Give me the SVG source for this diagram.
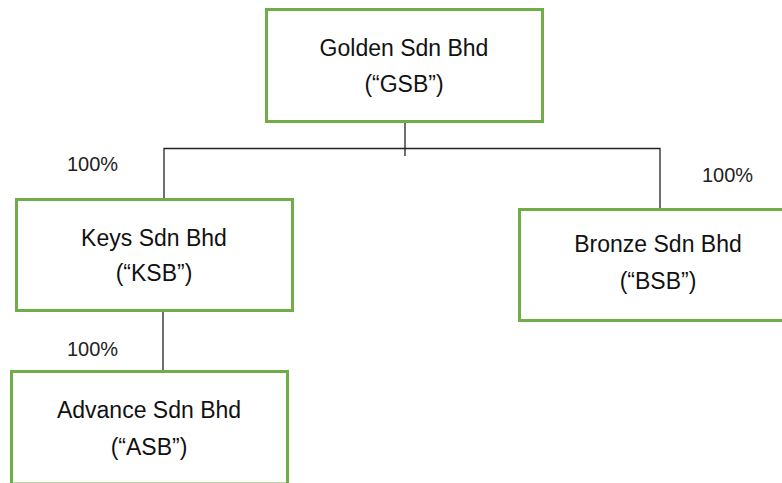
<svg xmlns="http://www.w3.org/2000/svg" width="782" height="483" viewBox="0 0 782 483">
<style>
.box{fill:#fff;stroke:#70AD47;stroke-width:3}
.t{font-family:"Liberation Sans",Arial,sans-serif;font-size:23px;fill:#111;text-anchor:middle}
.p{font-family:"Liberation Sans",Arial,sans-serif;font-size:20px;fill:#222}
.ln{stroke:#222;stroke-width:1.3;fill:none}
</style>
<rect width="782" height="483" fill="#fff"/>
<g id="connectors">
<line class="ln" x1="405" y1="117" x2="405" y2="156"/>
<polyline class="ln" points="164,199 164,148.5 660,148.5 660,209"/>
<line class="ln" x1="163" y1="311" x2="163" y2="371"/>
<text class="p" x="67" y="171">100%</text>
<text class="p" x="702" y="182">100%</text>
<text class="p" x="67" y="356">100%</text>
</g>
<g id="gsb">
<rect class="box" x="266.5" y="9.5" width="276" height="112"/>
<text class="t" x="404" y="56">Golden Sdn Bhd</text>
<text class="t" x="404" y="92">(“GSB”)</text>
</g>
<g id="ksb">
<rect class="box" x="16.5" y="199.5" width="276" height="111"/>
<text class="t" x="154" y="246">Keys Sdn Bhd</text>
<text class="t" x="154" y="281">(“KSB”)</text>
</g>
<g id="bsb">
<rect class="box" x="519.5" y="209.5" width="278" height="111"/>
<text class="t" x="658" y="252">Bronze Sdn Bhd</text>
<text class="t" x="658" y="289">(“BSB”)</text>
</g>
<g id="asb">
<rect class="box" x="11.5" y="371.5" width="276" height="112.5"/>
<text class="t" x="149" y="418">Advance Sdn Bhd</text>
<text class="t" x="149" y="455">(“ASB”)</text>
</g>
</svg>
